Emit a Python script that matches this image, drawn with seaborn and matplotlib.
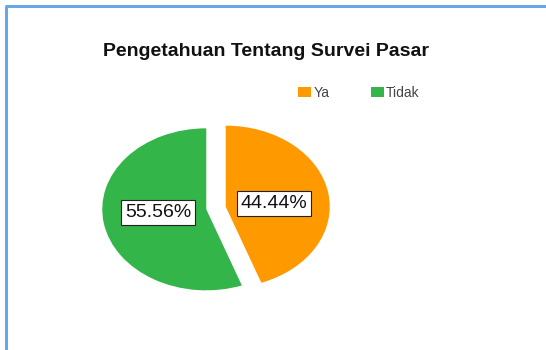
import matplotlib
matplotlib.use("Agg")
import matplotlib.pyplot as plt
from matplotlib.lines import Line2D
import seaborn as sns

# Data
categories = ["Ya", "Tidak"]
values = [44.44, 55.56]
title = "Pengetahuan Tentang Survei Pasar"
colors = ["#FF9900", "#33B549"]

sns.set_theme(style="white")
plt.rcParams['font.family'] = ['Liberation Sans', 'DejaVu Sans']

palette = sns.color_palette(colors)

W, H = 546, 350
fig = plt.figure(figsize=(W / 100, H / 100), dpi=100)
fig.patch.set_facecolor("white")

# pie axes: centre (216,208) px, rx 104, ry 81
cx, cy, rx, ry = 216, 208, 104, 81
ax = fig.add_axes([(cx - 1.5 * rx) / W, (H - cy - 1.5 * ry) / H, 3 * rx / W, 3 * ry / H])

wedges, texts, autotexts = ax.pie(
    values,
    colors=palette,
    startangle=90,
    counterclock=False,
    explode=[0.095, 0.095],
    autopct="%.2f%%",
    pctdistance=0.5,
    wedgeprops=dict(linewidth=0),
    textprops=dict(fontsize=14, color="#111111"),
)
for t in autotexts:
    x, y = t.get_position()
    t.set_position((x * 0.95, y * 0.55))
    t.set_bbox(dict(boxstyle="square,pad=0.2", facecolor="white", edgecolor="#222222", linewidth=0.8))
ax.set_xlim(-1.5, 1.5)
ax.set_ylim(-1.5, 1.5)
ax.set_aspect("auto")
ax.axis("off")

fig.text(266 / W, 1 - 52 / H, title, ha="center", va="center",
         fontsize=14, fontweight="bold", color="#111111")

leg = fig.legend(wedges, categories, loc="center left",
                 bbox_to_anchor=(298 / W, 1 - 93 / H), ncol=2, frameon=False,
                 fontsize=10, handlelength=0.95, handleheight=0.75,
                 handletextpad=0.15, columnspacing=3.0, borderpad=0, borderaxespad=0)
for t in leg.get_texts():
    t.set_color("#444444")

# blue frame (top and left edges)
fig.add_artist(Line2D([6 / W, 6 / W], [0, 1 - 6 / H], transform=fig.transFigure,
                      color="#6AA6E6", linewidth=2.2, solid_capstyle="butt"))
fig.add_artist(Line2D([5 / W, 1], [1 - 6 / H, 1 - 6 / H], transform=fig.transFigure,
                      color="#6AA6E6", linewidth=2.2, solid_capstyle="butt"))

fig.savefig("out.png", dpi=100)
